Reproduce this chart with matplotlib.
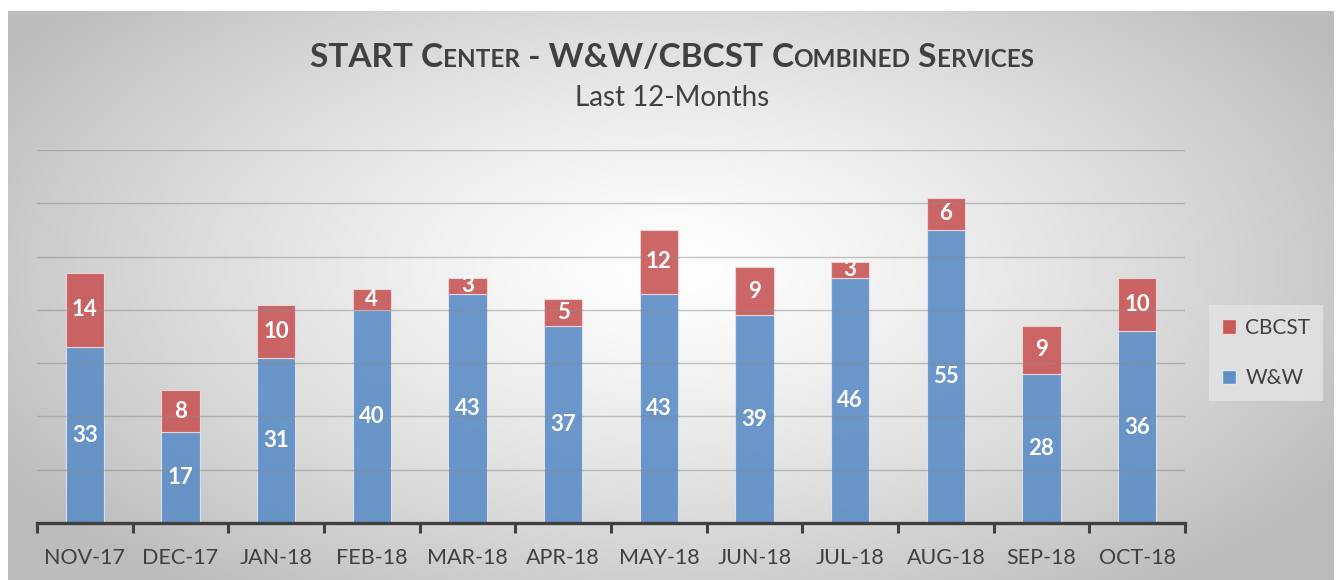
import numpy as np
import matplotlib.pyplot as plt
from matplotlib.patches import Patch

months = ["NOV-17", "DEC-17", "JAN-18", "FEB-18", "MAR-18", "APR-18",
          "MAY-18", "JUN-18", "JUL-18", "AUG-18", "SEP-18", "OCT-18"]
ww = [33, 17, 31, 40, 43, 37, 43, 39, 46, 55, 28, 36]
cbcst = [14, 8, 10, 4, 3, 5, 12, 9, 3, 6, 9, 10]

blue = "#5f8fc7"
red = "#c95a5a"
txt = "#404040"

plt.rcParams["font.family"] = ["Lato", "DejaVu Sans"]

fig = plt.figure(figsize=(13.4, 5.8), dpi=100)

# background: radial gradient panel
bg = fig.add_axes([8/1340, 0, 1326/1340, 1 - 11/580])
yy, xx = np.mgrid[0:1:300j, 0:1:700j]
r = np.sqrt(((xx - 0.5) / 0.62) ** 2 + ((yy - 0.45) / 0.75) ** 2)
shade = np.clip(1 - 0.28 * r ** 1.3, 0.74, 1)
bg.imshow(np.dstack([shade] * 3), aspect="auto", extent=[0, 1, 0, 1])
bg.set_axis_off()

ax = fig.add_axes([37/1340, 1 - 523/580, (1185 - 37)/1340, (523 - 150)/580])
ax.patch.set_alpha(0)
x = np.arange(len(months))
ax.bar(x, ww, width=0.4, color=blue, alpha=0.92, edgecolor="#dce6f2", linewidth=0.8, zorder=2)
ax.bar(x, cbcst, width=0.4, bottom=ww, color=red, alpha=0.92, edgecolor="#f0d8d8", linewidth=0.8, zorder=2)

for i in range(len(months)):
    ax.text(x[i], ww[i] / 2, str(ww[i]), ha="center", va="center", color="white",
            fontsize=16, fontweight="bold", zorder=4)
    ax.text(x[i], ww[i] + cbcst[i] / 2, str(cbcst[i]), ha="center", va="center", color="white",
            fontsize=16, fontweight="bold", zorder=4)

ax.set_xlim(-0.5, len(months) - 0.5)
ax.set_ylim(0, 70)
ax.set_yticks(np.arange(10, 71, 10))
ax.yaxis.grid(True, color="#8c8c8c", linewidth=1.0, alpha=0.5, zorder=3)
ax.set_axisbelow(False)
ax.tick_params(axis="y", left=False, labelleft=False)
for s in ["top", "right", "left"]:
    ax.spines[s].set_visible(False)
ax.spines["bottom"].set_color(txt)
ax.spines["bottom"].set_linewidth(2.4)
ax.spines["bottom"].set_zorder(5)
ax.set_xticks(x)
ax.set_xticklabels(months, fontsize=15.5, color=txt)
ax.tick_params(axis="x", which="major", length=0, pad=18)
ax.set_xticks(np.arange(-0.5, len(months), 1), minor=True)
ax.tick_params(axis="x", which="minor", length=7, width=2.2, color=txt, direction="out")

handles = [Patch(facecolor=red, edgecolor="#f0d8d8"), Patch(facecolor=blue, edgecolor="#dce6f2")]
leg = fig.legend(handles, ["CBCST", "W&W"], loc="center", bbox_to_anchor=(1266/1340, 1 - 353/580),
                 fontsize=15, frameon=True, handlelength=0.7, handleheight=0.7,
                 labelspacing=1.45, handletextpad=0.45, borderpad=0.6, borderaxespad=0,
                 fancybox=False)
leg.get_frame().set_facecolor("#e4e4e4")
leg.get_frame().set_edgecolor("none")
leg.get_frame().set_alpha(0.8)
for t in leg.get_texts():
    t.set_color(txt)

# title with small caps look
big, small = 24, 17.5
parts = [("START ", big), ("C", big), ("ENTER", small), (" - W&W/CBCST ", big), ("C", big),
         ("OMBINED", small), (" S", big), ("ERVICES", small)]
renderer = fig.canvas.get_renderer()
objs = []
for s, fs in parts:
    t = fig.text(0, 1 - 67/580, s, fontsize=fs, fontweight="bold", color=txt, ha="left", va="baseline")
    objs.append(t)
widths = [o.get_window_extent(renderer).width for o in objs]
pos = 672 - sum(widths) / 2
for o, w in zip(objs, widths):
    o.set_x(pos / 1340)
    pos += w

fig.text(672/1340, 1 - 98/580, "Last 12-Months", fontsize=20, color=txt, ha="center", va="center")

fig.savefig("out.png", dpi=100)
